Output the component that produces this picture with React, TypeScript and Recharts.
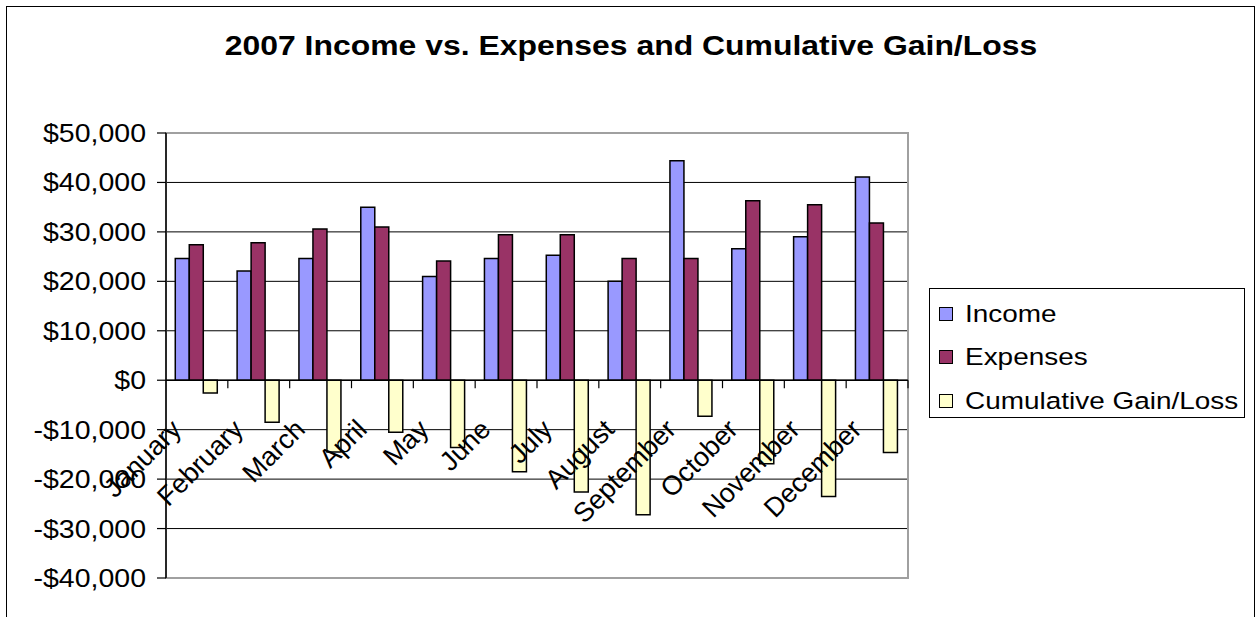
import {
  BarChart, Bar, XAxis, YAxis, CartesianGrid, ReferenceLine, ReferenceArea, Legend,
} from "recharts";

const months = [
  "January", "February", "March", "April", "May", "June",
  "July", "August", "September", "October", "November", "December",
];
const income = [24600, 22100, 24600, 35000, 21000, 24600, 25300, 20000, 44400, 26600, 29000, 41100];
const expenses = [27400, 27800, 30600, 31000, 24100, 29400, 29400, 24600, 24600, 36300, 35500, 31800];
const cumulative = [-2600, -8500, -14500, -10500, -13600, -18500, -22600, -27200, -7300, -16900, -23500, -14600];
const yTicks = [50000, 40000, 30000, 20000, 10000, 0, -10000, -20000, -30000, -40000];

const seriesNames = ["Income", "Expenses", "Cumulative Gain/Loss"];
const seriesColors = ["#9999ff", "#993366", "#ffffcc"];

const data = months.map((m, i) => ({
  month: m,
  income: income[i],
  expenses: expenses[i],
  cumulative: cumulative[i],
}));

const FONT = '"Liberation Sans", Arial, sans-serif';
const STRETCH = 1.14; // the original picture is a bit wider than tall

const money = (v: number) =>
  (v < 0 ? "-$" : "$") + Math.abs(v).toLocaleString("en-US");

// eslint-disable-next-line @typescript-eslint/no-explicit-any
const DollarTick = (p: any) => (
  <g transform={`translate(${p.x - 9},${p.y}) scale(${STRETCH},1)`}>
    <text textAnchor="end" dy="0.36em" fontSize={25} fontFamily={FONT} fill="#000">
      {money(p.payload.value)}
    </text>
  </g>
);

// month names sit under the zero line, rotated 45 degrees
// eslint-disable-next-line @typescript-eslint/no-explicit-any
const MonthTick = (p: any) => (
  <g transform={`translate(${p.x - 14},${p.y - 147}) rotate(-45)`}>
    <text textAnchor="end" fontSize={27} fontFamily={FONT} fill="#000">
      {p.payload.value}
    </text>
  </g>
);

// zero line with the little category-boundary ticks hanging under it
// eslint-disable-next-line @typescript-eslint/no-explicit-any
const ZeroLine = (p: any) => {
  const { x1, x2, y1 } = p;
  const step = (x2 - x1) / months.length;
  return (
    <g>
      <line x1={x1} y1={y1} x2={x2} y2={y1} stroke="#000" strokeWidth={1.5} />
      {months.map((m, i) => (
        <line key={m} x1={x1 + step * (i + 1)} y1={y1} x2={x1 + step * (i + 1)} y2={y1 + 8} stroke="#000" strokeWidth={1.2} />
      ))}
    </g>
  );
};

const LegendBox = () => (
  <div style={{ border: "1.5px solid #000", background: "#fff", width: 316, height: 130, boxSizing: "border-box", position: "relative", fontFamily: FONT }}>
    {seriesNames.map((name, i) => (
      <div key={name} style={{ position: "absolute", left: 9, top: 25 + i * 43.4 - 8, height: 16, display: "flex", alignItems: "center" }}>
        <div style={{ width: 14, height: 14, background: seriesColors[i], border: "1.5px solid #000", boxSizing: "border-box" }} />
        <div style={{ marginLeft: 12, fontSize: 24.5, lineHeight: "16px", transform: `scaleX(${STRETCH})`, transformOrigin: "left center", whiteSpace: "nowrap" }}>
          {name}
        </div>
      </div>
    ))}
  </div>
);

export default function App() {
  return (
    <div style={{ position: "absolute", left: 0, top: 0, width: 1257, height: 617, overflow: "hidden", background: "#fff" }}>
      <div style={{ position: "absolute", left: 6, top: 6, width: 1249, height: 700, border: "1.5px solid #000", boxSizing: "border-box" }} />
      <div style={{
        position: "absolute", left: 0, width: 1262, top: 32, textAlign: "center", fontFamily: FONT,
        fontWeight: "bold", fontSize: 28, lineHeight: "28px", transform: `scaleX(${STRETCH})`, transformOrigin: "631px center",
      }}>
        2007 Income vs. Expenses and Cumulative Gain/Loss
      </div>
      <div style={{ position: "absolute", left: 0, top: 0 }}>
        <BarChart
          width={1257} height={617} data={data}
          margin={{ top: 133, right: 349, bottom: 0, left: 0 }}
          barCategoryGap="15%" barGap={0}
        >
          <CartesianGrid horizontal vertical={false} stroke="#000" strokeWidth={1} />
          <ReferenceArea y1={-40000} y2={50000} fill="none" stroke="#a0a0a0" strokeWidth={2} ifOverflow="visible" />
          <XAxis dataKey="month" height={39} axisLine={false} tickLine={false} tickSize={0} tickMargin={0} tick={<MonthTick />} interval={0} />
          <YAxis
            width={166} domain={[-40000, 50000]} ticks={yTicks} interval={0}
            axisLine={{ stroke: "#000", strokeWidth: 1.5 }} tickLine={{ stroke: "#000", strokeWidth: 1.2 }}
            tickSize={9} tick={<DollarTick />}
          />
          <ReferenceLine y={0} shape={<ZeroLine />} />
          <Legend
            layout="horizontal" align="center" verticalAlign="middle"
            content={<LegendBox />}
            wrapperStyle={{ position: "absolute", left: 929, top: 288, width: 316, height: 130 }}
          />
          <Bar dataKey="income" name={seriesNames[0]} fill={seriesColors[0]} stroke="#000" strokeWidth={1.5} isAnimationActive={false} />
          <Bar dataKey="expenses" name={seriesNames[1]} fill={seriesColors[1]} stroke="#000" strokeWidth={1.5} isAnimationActive={false} />
          <Bar dataKey="cumulative" name={seriesNames[2]} fill={seriesColors[2]} stroke="#000" strokeWidth={1.5} isAnimationActive={false} />
        </BarChart>
      </div>
    </div>
  );
}
